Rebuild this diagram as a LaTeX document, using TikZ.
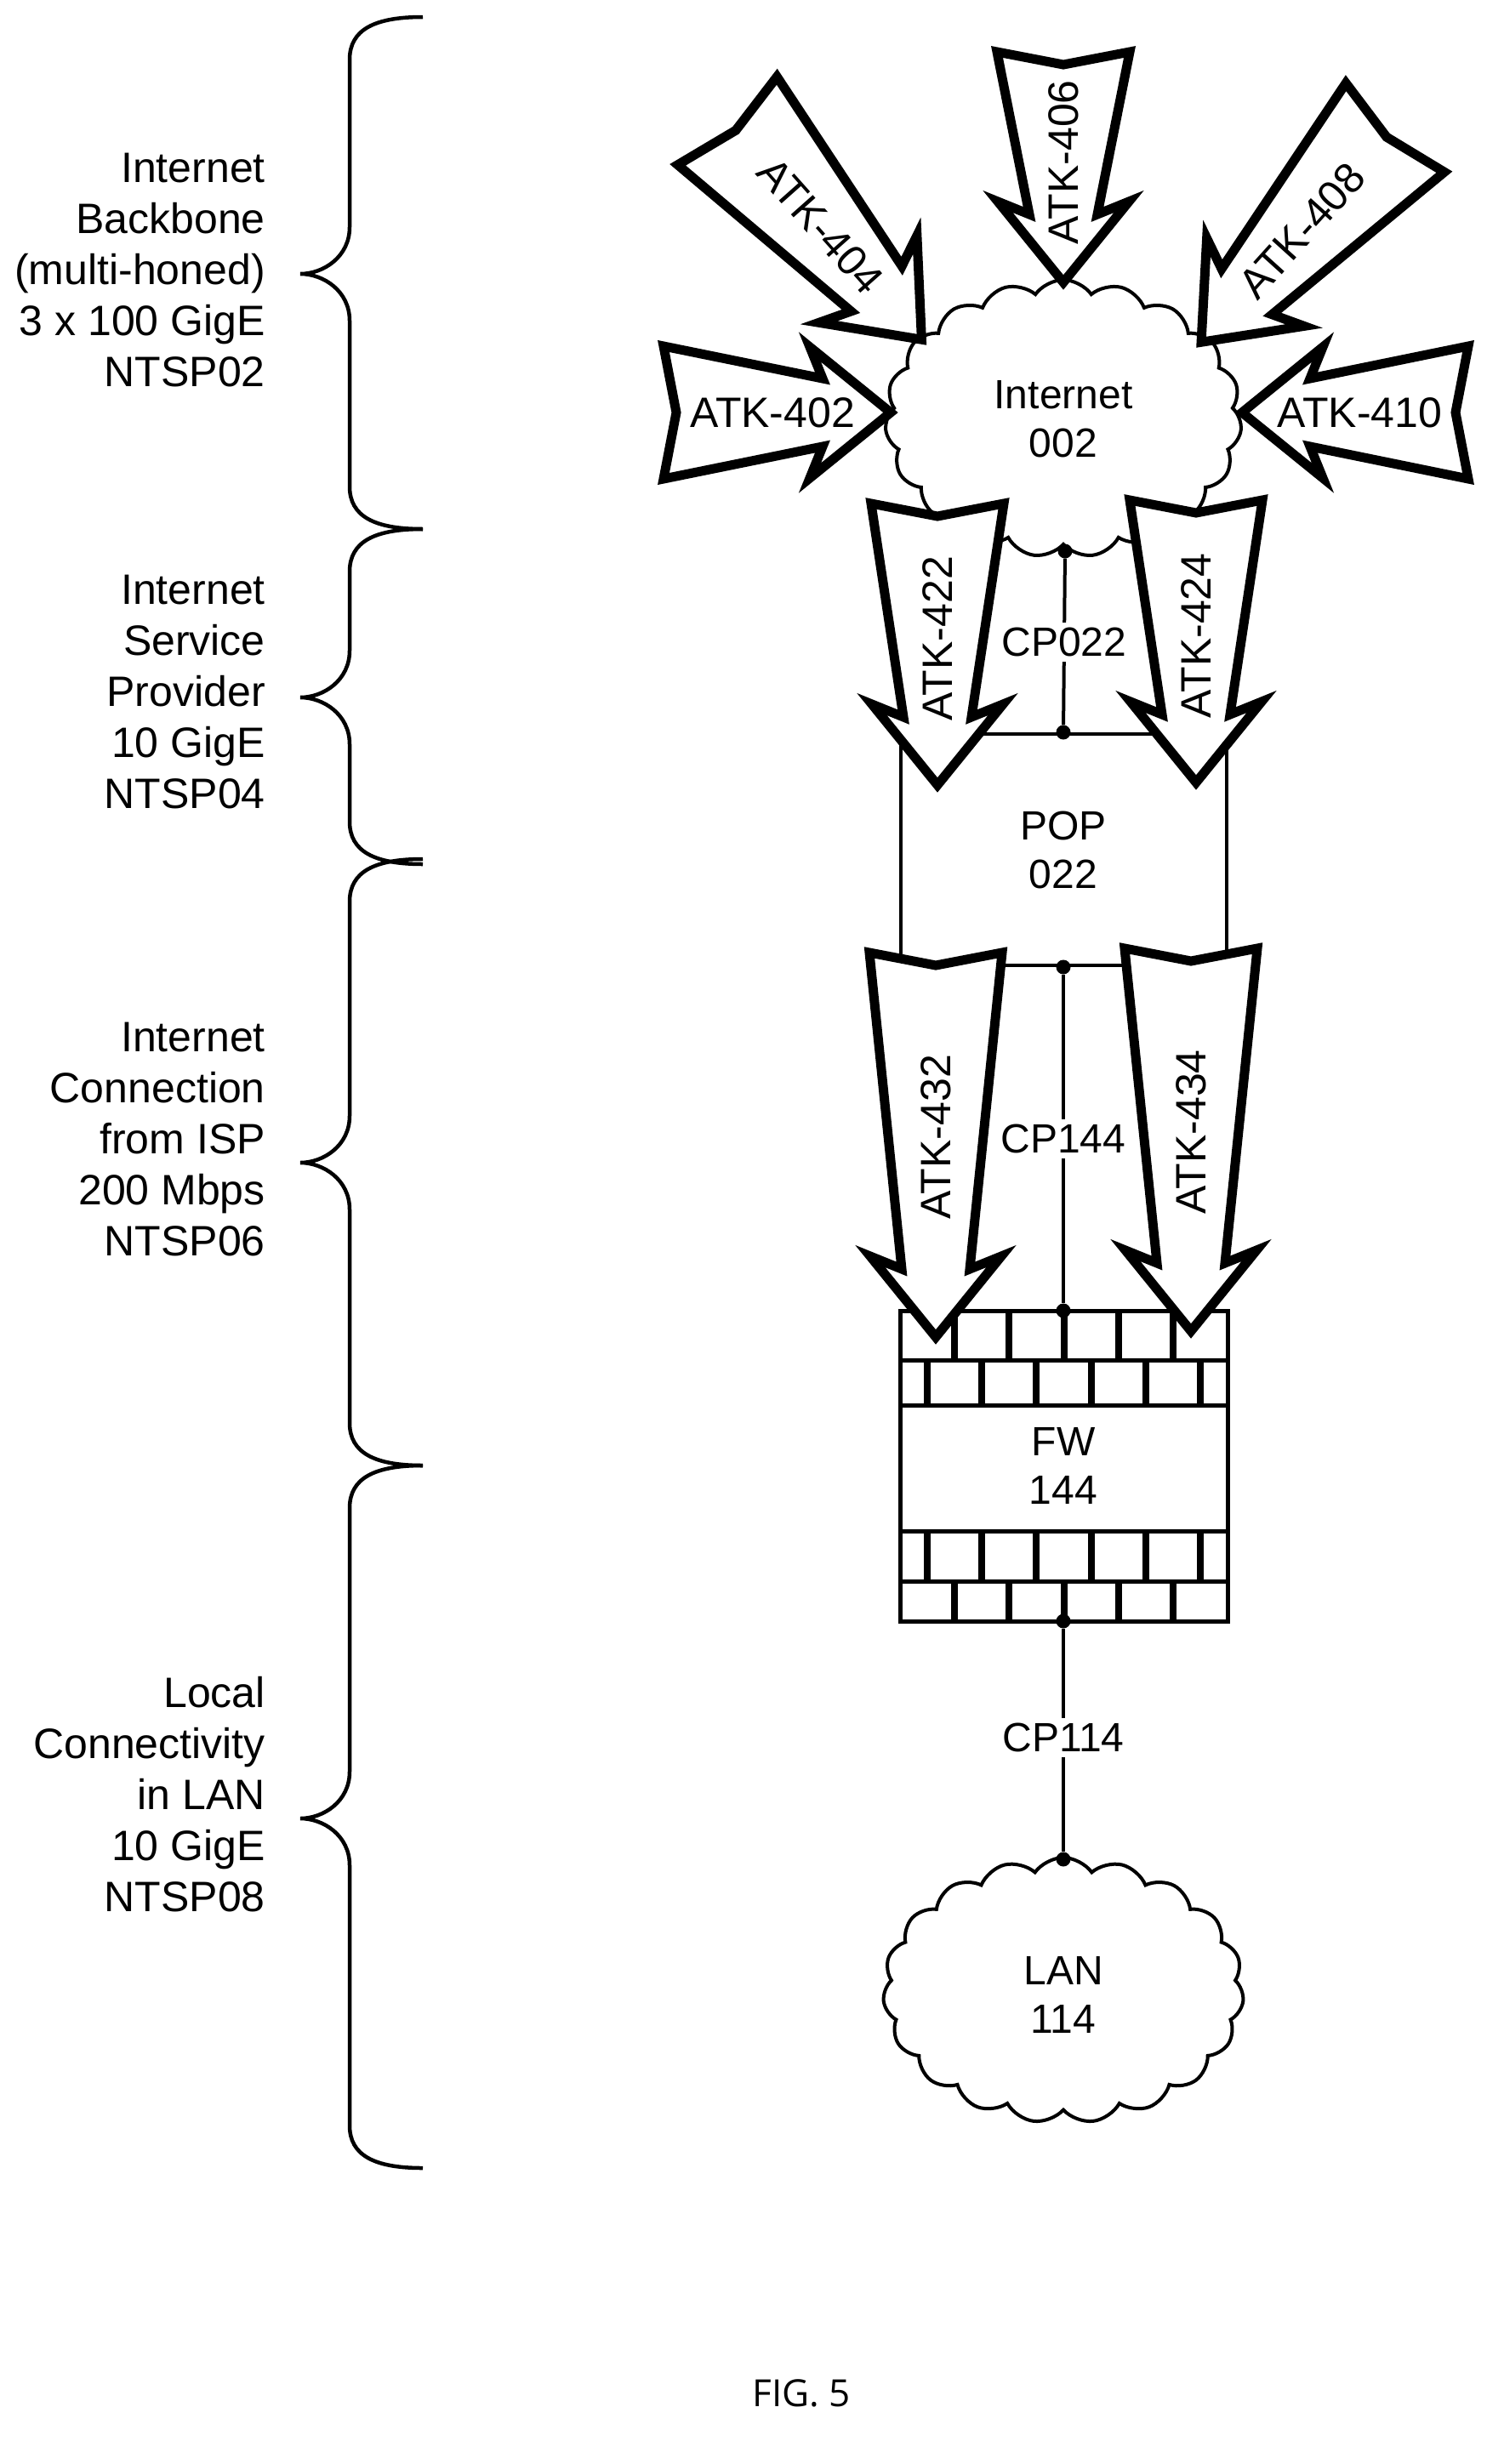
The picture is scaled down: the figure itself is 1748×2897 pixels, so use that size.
\documentclass[tikz,border=0pt]{standalone}
\usepackage{fontspec}
\setmainfont{Liberation Sans}
\newfontfamily\figfont{Open Sans}
\usetikzlibrary{shapes.symbols}
\newcommand\atkarrow[6]{%
  \begin{scope}[shift={(#1,#2)},rotate=#3]
    \draw[atk] (0,78) -- (15,0) -- (0,-78) -- (#4-80,-40) -- (#4-95,-77) -- (#4,0)
      -- (#4-95,77) -- (#4-80,40) -- cycle;
    \node[atktext,transform shape,rotate=#5] (#6) at (0.48*#4,0) {#6};
  \end{scope}}
\newcommand\bracepath[3]{%
  \draw[brace] (497,#1) .. controls (440,#1) and (411,#1+15) .. (411,#1+50) -- (411,#3-55)
    .. controls (411,#3-20) and (380,#3) .. (353,#3)
    .. controls (380,#3) and (411,#3+20) .. (411,#3+55) -- (411,#2-50)
    .. controls (411,#2-15) and (440,#2) .. (497,#2);}
\begin{document}
\begin{tikzpicture}[x=1pt,y=-1pt,
  atk/.style={line width=11pt,fill=white,line join=miter,miter limit=10},
  atktext/.style={font=\fontsize{50}{60}\selectfont,inner sep=0pt},
  lab/.style={font=\fontsize{50}{60}\selectfont,align=right,anchor=east,inner sep=0pt},
  txt/.style={font=\fontsize{48}{57}\selectfont,align=center},
  cp/.style={font=\fontsize{48}{57}\selectfont,fill=white,inner sep=6pt},
  brace/.style={line width=4.5pt},
  thin/.style={line width=4pt},
  dot/.style={circle,fill=black,inner sep=0pt,minimum size=17pt},
  cld/.style={cloud,draw,line width=4pt,fill=white,cloud puffs=19,cloud puff arc=110,align=center,font=\fontsize{48}{57}\selectfont,inner sep=0pt}]
\useasboundingbox (0,0) rectangle (1748,2897);
% braces and labels
\bracepath{20}{622}{322}
\bracepath{622}{1016}{820}
\bracepath{1010}{1723}{1367}
\bracepath{1723}{2549}{2138}
\node[lab] (l1) at (312,318) {Internet\\Backbone\\(multi-honed)\\3 x 100 GigE\\NTSP02};
\node[lab] (l2) at (312,814) {Internet\\Service\\Provider\\10 GigE\\NTSP04};
\node[lab] (l3) at (312,1340) {Internet\\Connection\\from ISP\\200 Mbps\\NTSP06};
\node[lab] (l4) at (312,2110) {Local\\Connectivity\\in LAN\\10 GigE\\NTSP08};
% internet cloud
\node[cld,minimum width=419pt,minimum height=326pt,aspect=1.29] (inet) at (1250,492) {};
\node[txt] (inettxt) at (1250,493) {Internet\\002};
% POP
\node[draw,thin,minimum width=383pt,minimum height=272pt,txt] (pop) at (1250,999) {POP\\022};
\node[dot] (d1) at (1252,648) {};
\node[dot] (d2) at (pop.north) {};
\draw[thin] (d1) -- (d2) node[cp,midway] (cp022) {CP022};
% firewall
\coordinate (fwa) at (1058,1541);
\coordinate (fwb) at (1443,1906);
\fill[white] (fwa) rectangle (fwb);
\foreach \y in {1599,1652,1800,1859} \draw[line width=5pt] (1058,\y) -- (1443,\y);
\foreach \k in {1,...,5} {
  \draw[line width=8pt] (1058+64.17*\k,1541) -- (1058+64.17*\k,1599);
  \draw[line width=8pt] (1058+64.17*\k,1859) -- (1058+64.17*\k,1906);}
\foreach \k in {0,...,5} {
  \draw[line width=8pt] (1090.1+64.17*\k,1599) -- (1090.1+64.17*\k,1652);
  \draw[line width=8pt] (1090.1+64.17*\k,1800) -- (1090.1+64.17*\k,1859);}
\draw[line width=5pt] (fwa) rectangle (fwb);
\node[txt] (fw) at (1250,1723) {FW\\144};
\node[dot] (d3) at (pop.south) {};
\node[dot] (d4) at (1250,1541) {};
\draw[thin] (d3) -- (d4) node[cp,midway] (cp144) {CP144};
% LAN
\node[cld,minimum width=424pt,minimum height=312pt,aspect=1.36] (lan) at (1250,2340) {};
\node[txt] (lantxt) at (1250,2345) {LAN\\114};
\node[dot] (d5) at (1250,1906) {};
\node[dot] (d6) at (1250,2186) {};
\draw[thin] (d5) -- (d6) node[cp,pos=0.49] (cp114) {CP114};
% attack arrows
\atkarrow{780}{485}{0}{267}{0}{ATK-402}
\atkarrow{855}{142}{-48.4}{344}{0}{ATK-404}
\atkarrow{1250}{61}{-90}{271}{180}{ATK-406}
\atkarrow{1640}{150}{-132.1}{340}{180}{ATK-408}
\atkarrow{1726}{485}{180}{266}{180}{ATK-410}
\atkarrow{1102}{592}{-90}{331}{180}{ATK-422}
\atkarrow{1406}{588}{-90}{332}{180}{ATK-424}
\atkarrow{1100}{1120}{-90}{452}{180}{ATK-432}
\atkarrow{1400}{1115}{-90}{450}{180}{ATK-434}
\node[font=\figfont\fontsize{44}{52}\selectfont] (fig) at (942,2814) {FIG. 5};
\end{tikzpicture}
\end{document}
